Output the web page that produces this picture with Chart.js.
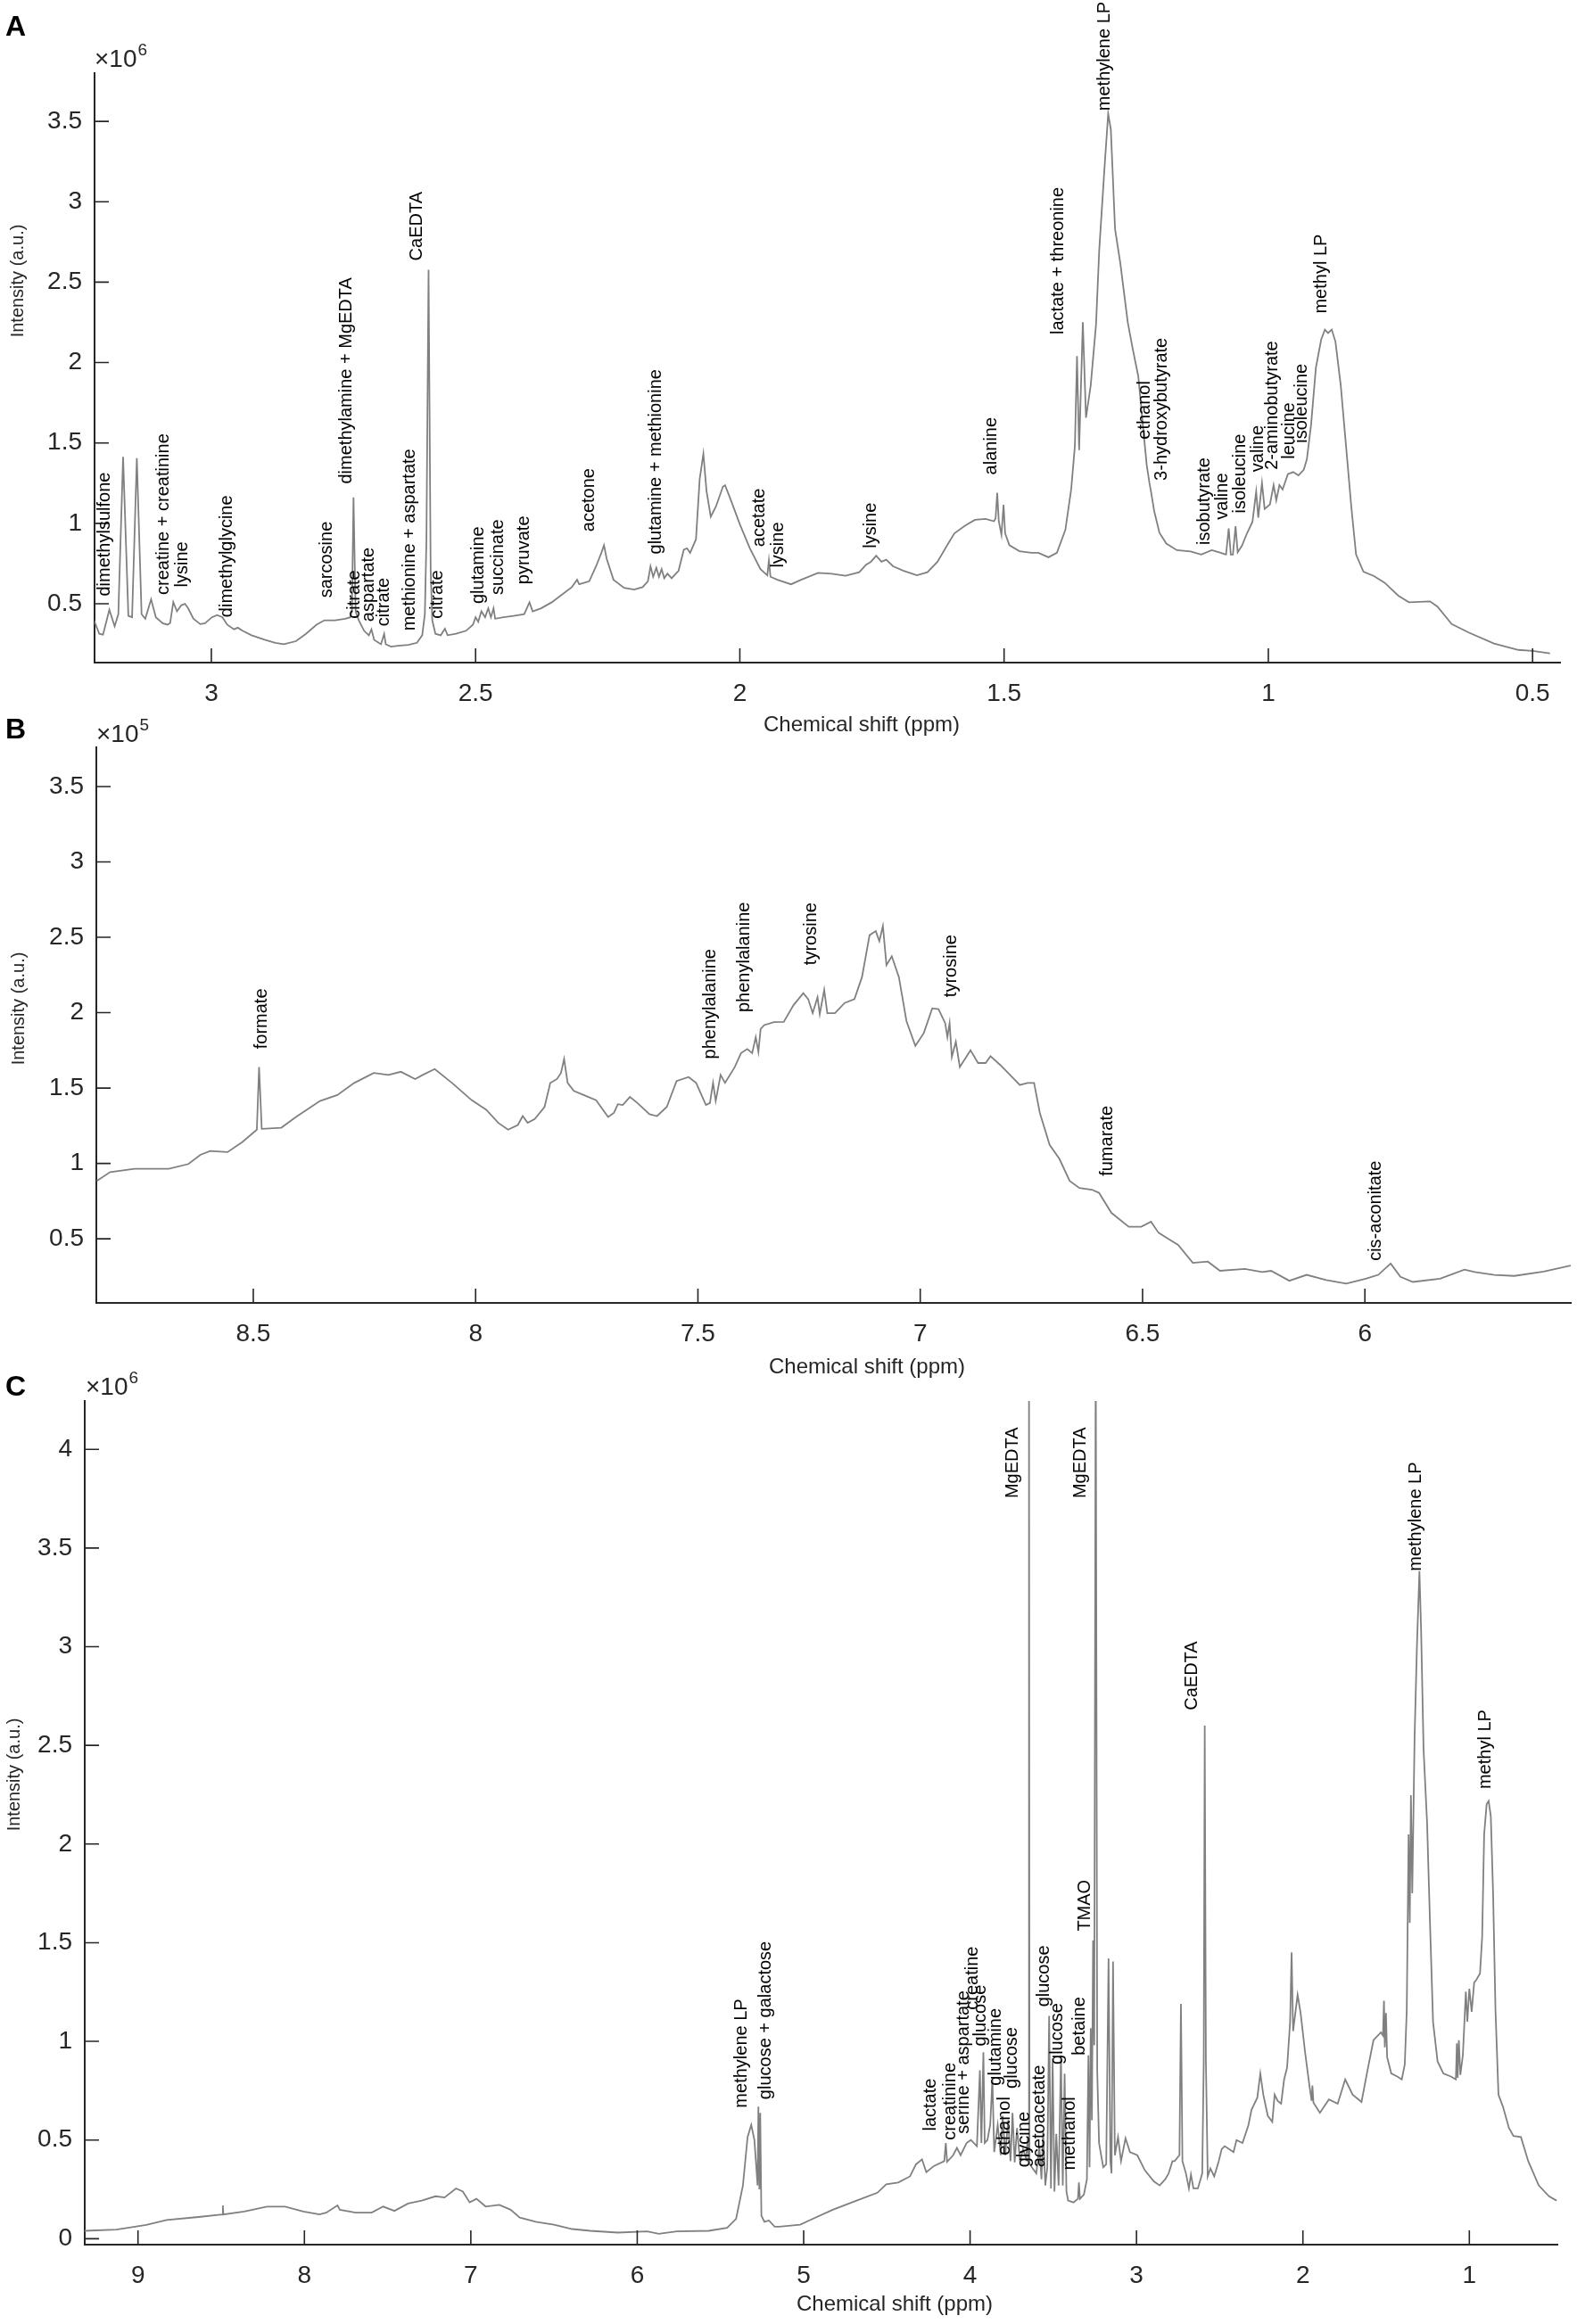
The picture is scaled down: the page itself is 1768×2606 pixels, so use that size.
<!DOCTYPE html>
<html>
<head>
<meta charset="utf-8">
<title>1H NMR spectra</title>
<script src="https://cdn.jsdelivr.net/npm/chart.js@4.4.1/dist/chart.umd.min.js"></script>
<style>
html, body { margin: 0; padding: 0; background: #fff; }
#page { position: relative; width: 1768px; height: 2606px; }
canvas { position: absolute; left: 0; }
</style>
</head>
<body>
<div id="page">
	<canvas id="chartA" width="1768" height="850" style="top:0px"></canvas>
	<canvas id="chartB" width="1768" height="770" style="top:790px"></canvas>
	<canvas id="chartC" width="1768" height="1076" style="top:1530px"></canvas>
</div>
<script>
'use strict';

const font_family = '"Liberation Sans", Arial, Helvetica, sans-serif';
const axis_color = '#262626';
const line_color = '#808080';
const tick_len = 16;

// panel A (x10^6)

const shift_a = [
	3.222, 3.212, 3.205, 3.193, 3.183, 3.176, 3.167, 3.157, 3.15, 3.141,
	3.132, 3.125, 3.114, 3.105, 3.092, 3.083, 3.078, 3.072, 3.065, 3.057,
	3.05, 3.044, 3.034, 3.021, 3.012, 2.999, 2.989, 2.979, 2.97, 2.957,
	2.95, 2.941, 2.924, 2.899, 2.879, 2.863, 2.84, 2.821, 2.801, 2.786,
	2.766, 2.747, 2.737, 2.734, 2.731, 2.727, 2.721, 2.711, 2.702, 2.697,
	2.692, 2.679, 2.673, 2.67, 2.66, 2.647, 2.627, 2.611, 2.601, 2.596,
	2.593, 2.589, 2.585, 2.582, 2.576, 2.566, 2.558, 2.553, 2.537, 2.518,
	2.505, 2.5, 2.495, 2.489, 2.482, 2.476, 2.471, 2.466, 2.463, 2.447,
	2.428, 2.408, 2.398, 2.392, 2.376, 2.356, 2.337, 2.318, 2.308, 2.304,
	2.285, 2.272, 2.262, 2.257, 2.252, 2.239, 2.219, 2.2, 2.184, 2.174,
	2.169, 2.164, 2.158, 2.153, 2.148, 2.143, 2.137, 2.129, 2.116, 2.106,
	2.1, 2.094, 2.083, 2.076, 2.069, 2.063, 2.055, 2.045, 2.032, 2.028,
	2.019, 2.0, 1.981, 1.961, 1.948, 1.945, 1.942, 1.929, 1.903, 1.884,
	1.852, 1.826, 1.8, 1.774, 1.761, 1.752, 1.742, 1.732, 1.723, 1.71,
	1.69, 1.665, 1.645, 1.626, 1.606, 1.594, 1.574, 1.555, 1.535, 1.519,
	1.516, 1.513, 1.51, 1.505, 1.501, 1.498, 1.49, 1.471, 1.448, 1.435,
	1.416, 1.4, 1.384, 1.373, 1.366, 1.362, 1.358, 1.351, 1.345, 1.336,
	1.326, 1.32, 1.31, 1.303, 1.298, 1.29, 1.28, 1.266, 1.256, 1.246,
	1.236, 1.23, 1.225, 1.222, 1.216, 1.206, 1.193, 1.173, 1.147, 1.127,
	1.107, 1.093, 1.08, 1.075, 1.071, 1.067, 1.062, 1.058, 1.05, 1.04,
	1.03, 1.023, 1.019, 1.012, 1.007, 0.997, 0.99, 0.985, 0.979, 0.973,
	0.963, 0.953, 0.943, 0.933, 0.927, 0.919, 0.91, 0.9, 0.893, 0.887,
	0.88, 0.873, 0.863, 0.853, 0.843, 0.834, 0.82, 0.8, 0.78, 0.754,
	0.734, 0.694, 0.68, 0.653, 0.62, 0.573, 0.527, 0.5, 0.467
];
const intensity_a = [
	0.397, 0.313, 0.308, 0.463, 0.36, 0.435, 1.414, 0.425, 0.416, 1.405,
	0.435, 0.407, 0.528, 0.416, 0.379, 0.37, 0.38, 0.51, 0.453, 0.49,
	0.5, 0.472, 0.407, 0.373, 0.379, 0.416, 0.43, 0.416, 0.37, 0.341,
	0.351, 0.332, 0.304, 0.276, 0.257, 0.248, 0.267, 0.313, 0.37, 0.397,
	0.397, 0.407, 0.416, 0.453, 1.162, 0.453, 0.397, 0.332, 0.304, 0.341,
	0.276, 0.248, 0.313, 0.248, 0.233, 0.239, 0.244, 0.257, 0.304, 0.435,
	0.9, 2.577, 0.715, 0.397, 0.313, 0.304, 0.345, 0.304, 0.313, 0.332,
	0.37, 0.416, 0.388, 0.453, 0.416, 0.472, 0.416, 0.472, 0.407, 0.416,
	0.425, 0.435, 0.509, 0.453, 0.472, 0.509, 0.556, 0.603, 0.649, 0.621,
	0.64, 0.733, 0.817, 0.864, 0.78, 0.649, 0.599, 0.588, 0.603, 0.64,
	0.733, 0.668, 0.724, 0.668, 0.715, 0.659, 0.687, 0.659, 0.705, 0.836,
	0.845, 0.817, 0.901, 1.274, 1.433, 1.2, 1.041, 1.106, 1.228, 1.237,
	1.162, 0.994, 0.845, 0.715, 0.677, 0.77, 0.668, 0.649, 0.621, 0.649,
	0.692, 0.687, 0.674, 0.696, 0.743, 0.761, 0.799, 0.761, 0.774, 0.733,
	0.705, 0.677, 0.696, 0.761, 0.873, 0.938, 0.985, 1.022, 1.028, 1.013,
	1.032, 1.19, 1.013, 0.929, 1.116, 0.938, 0.864, 0.827, 0.817, 0.817,
	0.789, 0.817, 0.96, 1.212, 1.482, 2.04, 1.455, 2.251, 1.657, 1.86,
	2.238, 2.697, 3.21, 3.547, 3.45, 2.83, 2.616, 2.251, 2.076, 1.913,
	1.563, 1.36, 1.252, 1.198, 1.077, 0.941, 0.874, 0.833, 0.825, 0.806,
	0.833, 0.82, 0.806, 0.968, 0.806, 0.806, 0.982, 0.82, 0.86, 0.941,
	1.009, 1.198, 1.036, 1.252, 1.09, 1.117, 1.238, 1.144, 1.238, 1.211,
	1.306, 1.319, 1.298, 1.333, 1.4, 1.617, 1.968, 2.143, 2.205, 2.184,
	2.205, 2.13, 1.86, 1.482, 1.103, 0.806, 0.699, 0.672, 0.631, 0.55,
	0.509, 0.515, 0.482, 0.374, 0.32, 0.253, 0.213, 0.207, 0.191
];
const x_ticks_a = [3, 2.5, 2, 1.5, 1, 0.5];
const y_ticks_a = [0.5, 1, 1.5, 2, 2.5, 3, 3.5];

const note_text_a = [
	'dimethylsulfone', 'creatine + creatinine', 'lysine', 'dimethylglycine', 'sarcosine',
	'dimethylamine + MgEDTA', 'citrate', 'aspartate', 'citrate', 'methionine + aspartate',
	'CaEDTA', 'citrate', 'glutamine', 'succinate', 'pyruvate', 'acetone',
	'glutamine + methionine', 'acetate', 'lysine', 'lysine', 'alanine',
	'lactate + threonine', 'methylene LP', 'ethanol', '3-hydroxybutyrate',
	'isobutyrate', 'valine', 'isoleucine', 'valine', '2-aminobutyrate', 'leucine',
	'isoleucine', 'methyl LP'
];
const note_shift_a = [
	3.201, 3.09, 3.055, 2.971, 2.781,
	2.745, 2.729, 2.702, 2.674, 2.625,
	2.611, 2.572, 2.495, 2.457, 2.408, 2.285,
	2.159, 1.963, 1.927, 1.752, 1.524,
	1.397, 1.31, 1.233, 1.201,
	1.12, 1.087, 1.053, 1.02, 0.993, 0.961,
	0.937, 0.9
];
const note_level_a = [
	0.547, 0.556, 0.603, 0.416, 0.537,
	1.246, 0.407, 0.388, 0.36, 0.332,
	2.633, 0.407, 0.5, 0.556, 0.621, 0.948,
	0.808, 0.854, 0.724, 0.845, 1.302,
	2.175, 3.566, 1.522, 1.266,
	0.866, 1.023, 1.063, 1.32, 1.333, 1.4,
	1.5, 2.305
];

// panel B (x10^5)

const shift_b = [
	8.852, 8.822, 8.767, 8.69, 8.646, 8.619, 8.597, 8.558, 8.525, 8.492,
	8.487, 8.481, 8.437, 8.404, 8.35, 8.311, 8.273, 8.229, 8.196, 8.168,
	8.136, 8.119, 8.092, 8.053, 8.009, 7.976, 7.949, 7.927, 7.905, 7.894,
	7.883, 7.867, 7.845, 7.832, 7.817, 7.808, 7.801, 7.793, 7.779, 7.757,
	7.729, 7.702, 7.689, 7.68, 7.669, 7.653, 7.636, 7.609, 7.592, 7.57,
	7.548, 7.521, 7.504, 7.482, 7.473, 7.466, 7.46, 7.449, 7.439, 7.417,
	7.403, 7.389, 7.378, 7.37, 7.364, 7.359, 7.351, 7.329, 7.307, 7.285,
	7.263, 7.252, 7.242, 7.231, 7.226, 7.216, 7.209, 7.192, 7.17, 7.148,
	7.131, 7.114, 7.1, 7.092, 7.084, 7.076, 7.064, 7.048, 7.031, 7.011,
	6.992, 6.973, 6.959, 6.944, 6.939, 6.934, 6.929, 6.92, 6.911, 6.887,
	6.87, 6.853, 6.842, 6.82, 6.798, 6.776, 6.759, 6.744, 6.731, 6.709,
	6.687, 6.664, 6.642, 6.614, 6.598, 6.57, 6.531, 6.503, 6.481, 6.464,
	6.442, 6.42, 6.387, 6.353, 6.326, 6.27, 6.231, 6.211, 6.17, 6.131,
	6.087, 6.042, 5.998, 5.97, 5.942, 5.92, 5.892, 5.831, 5.776, 5.753,
	5.709, 5.664, 5.598, 5.537
];
const intensity_b = [
	0.884, 0.943, 0.964, 0.964, 0.996, 1.057, 1.083, 1.075, 1.141, 1.224,
	1.64, 1.229, 1.237, 1.308, 1.414, 1.454, 1.534, 1.6, 1.587, 1.608,
	1.56, 1.587, 1.626, 1.534, 1.42, 1.356, 1.269, 1.224, 1.255, 1.314,
	1.269, 1.295, 1.375, 1.534, 1.56, 1.6, 1.693, 1.534, 1.481, 1.454,
	1.42, 1.308, 1.335, 1.393, 1.388, 1.441, 1.401, 1.327, 1.314, 1.375,
	1.547, 1.573, 1.534, 1.388, 1.401, 1.534, 1.414, 1.587, 1.534, 1.64,
	1.732, 1.759, 1.732, 1.838, 1.74, 1.891, 1.918, 1.937, 1.939, 2.05,
	2.13, 2.09, 1.997, 2.103, 1.99, 2.151, 1.997, 1.997, 2.064, 2.09,
	2.236, 2.514, 2.541, 2.475, 2.575, 2.316, 2.374, 2.236, 1.944, 1.78,
	1.865, 2.029, 2.024, 1.931, 1.838, 1.93, 1.706, 1.807, 1.64, 1.751,
	1.666, 1.666, 1.711, 1.653, 1.587, 1.52, 1.534, 1.534, 1.335, 1.123,
	1.03, 0.884, 0.837, 0.826, 0.805, 0.672, 0.58, 0.58, 0.614, 0.54,
	0.5, 0.46, 0.341, 0.349, 0.288, 0.301, 0.28, 0.288, 0.222, 0.261,
	0.227, 0.203, 0.235, 0.261, 0.336, 0.248, 0.214, 0.235, 0.296, 0.28,
	0.261, 0.254, 0.283, 0.323
];
const x_ticks_b = [8.5, 8, 7.5, 7, 6.5, 6];
const y_ticks_b = [0.5, 1, 1.5, 2, 2.5, 3, 3.5];

const note_text_b = ['formate', 'phenylalanine', 'phenylalanine', 'tyrosine', 'tyrosine', 'fumarate', 'cis-aconitate'];
const note_shift_b = [8.481, 7.471, 7.395, 7.246, 6.931, 6.579, 5.976];
const note_level_b = [1.759, 1.693, 2.003, 2.316, 2.103, 0.916, 0.354];

// panel C (x10^6)

const shift_c = [
	9.32, 9.129, 8.95, 8.828, 8.636, 8.492, 8.49, 8.487, 8.362, 8.225,
	8.116, 8.006, 7.91, 7.869, 7.801, 7.787, 7.692, 7.596, 7.527, 7.459,
	7.377, 7.295, 7.212, 7.158, 7.089, 7.048, 7.007, 6.966, 6.911, 6.829,
	6.761, 6.706, 6.61, 6.501, 6.391, 6.282, 6.117, 5.94, 5.871, 5.762,
	5.57, 5.46, 5.406, 5.365, 5.337, 5.315, 5.296, 5.277, 5.272, 5.266,
	5.261, 5.254, 5.236, 5.209, 5.174, 5.146, 5.021, 4.968, 4.825, 4.682,
	4.557, 4.504, 4.432, 4.361, 4.325, 4.289, 4.263, 4.218, 4.155, 4.146,
	4.138, 4.102, 4.079, 4.057, 4.021, 3.995, 3.959, 3.941, 3.932, 3.92,
	3.912, 3.896, 3.879, 3.866, 3.855, 3.834, 3.816, 3.804, 3.789, 3.771,
	3.757, 3.745, 3.732, 3.718, 3.7, 3.682, 3.664, 3.652, 3.649, 3.646,
	3.643, 3.629, 3.602, 3.584, 3.571, 3.561, 3.548, 3.536, 3.525, 3.514,
	3.504, 3.493, 3.482, 3.468, 3.454, 3.443, 3.432, 3.421, 3.411, 3.379,
	3.352, 3.346, 3.34, 3.316, 3.298, 3.289, 3.282, 3.275, 3.268, 3.261,
	3.254, 3.245, 3.236, 3.225, 3.2, 3.182, 3.168, 3.157, 3.15, 3.141,
	3.13, 3.111, 3.093, 3.066, 3.039, 2.995, 2.95, 2.896, 2.861, 2.828,
	2.807, 2.784, 2.771, 2.742, 2.733, 2.724, 2.703, 2.685, 2.673, 2.658,
	2.631, 2.605, 2.596, 2.59, 2.583, 2.572, 2.556, 2.533, 2.506, 2.488,
	2.47, 2.417, 2.399, 2.363, 2.327, 2.309, 2.274, 2.256, 2.238, 2.211,
	2.184, 2.17, 2.152, 2.131, 2.113, 2.095, 2.077, 2.068, 2.059, 2.032,
	2.014, 1.987, 1.961, 1.948, 1.943, 1.937, 1.898, 1.844, 1.791, 1.746,
	1.701, 1.648, 1.612, 1.576, 1.531, 1.519, 1.513, 1.508, 1.501, 1.494,
	1.469, 1.433, 1.406, 1.388, 1.376, 1.365, 1.358, 1.351, 1.343, 1.329,
	1.315, 1.3, 1.29, 1.275, 1.254, 1.236, 1.218, 1.191, 1.156, 1.111,
	1.081, 1.075, 1.07, 1.063, 1.054, 1.039, 1.021, 1.012, 1.0, 0.986,
	0.971, 0.957, 0.936, 0.923, 0.911, 0.896, 0.884, 0.871, 0.857, 0.843,
	0.825, 0.798, 0.762, 0.735, 0.69, 0.646, 0.583, 0.521, 0.476
];
const intensity_c = [
	0.04, 0.046, 0.07, 0.095, 0.11, 0.123, 0.169, 0.123, 0.138, 0.163,
	0.163, 0.138, 0.123, 0.132, 0.169, 0.147, 0.132, 0.132, 0.163, 0.141,
	0.178, 0.193, 0.215, 0.209, 0.255, 0.239, 0.184, 0.202, 0.163, 0.172,
	0.147, 0.107, 0.086, 0.071, 0.049, 0.04, 0.031, 0.037, 0.025, 0.037,
	0.04, 0.055, 0.101, 0.27, 0.515, 0.577, 0.5, 0.27, 0.669, 0.25,
	0.638, 0.117, 0.086, 0.092, 0.061, 0.061, 0.071, 0.092, 0.147, 0.193,
	0.233, 0.276, 0.285, 0.316, 0.377, 0.402, 0.337, 0.368, 0.393, 0.485,
	0.39, 0.423, 0.46, 0.423, 0.485, 0.5, 0.469, 0.853, 0.485, 0.945,
	0.485, 0.5, 0.577, 0.807, 0.439, 0.577, 0.423, 0.623, 0.423, 0.601,
	0.393, 0.638, 0.387, 0.561, 0.393, 0.454, 0.408, 0.515, 0.4, 4.6,
	0.38, 0.362, 0.331, 0.469, 0.301, 0.546, 0.27, 0.362, 1.129, 0.255,
	0.914, 0.239, 0.531, 0.27, 0.929, 0.27, 0.837, 0.239, 0.193, 0.184,
	0.202, 0.285, 0.202, 0.224, 0.301, 0.929, 0.362, 1.067, 0.6, 1.512,
	0.98, 4.6, 0.85, 0.485, 0.362, 0.377, 1.42, 0.393, 0.331, 1.405,
	0.423, 0.515, 0.393, 0.509, 0.439, 0.423, 0.347, 0.291, 0.27, 0.3,
	0.331, 0.393, 0.393, 0.423, 1.19, 0.393, 0.331, 0.255, 0.325, 0.255,
	0.255, 0.331, 0.9, 2.6, 0.9, 0.316, 0.356, 0.316, 0.393, 0.454,
	0.469, 0.439, 0.5, 0.485, 0.577, 0.653, 0.715, 0.837, 0.73, 0.623,
	0.592, 0.73, 0.699, 0.684, 0.807, 0.868, 1.098, 1.451, 1.052, 1.236,
	1.144, 0.945, 0.776, 0.699, 0.776, 0.69, 0.638, 0.706, 0.684, 0.807,
	0.73, 0.693, 0.853, 1.006, 1.046, 1.03, 1.206, 0.97, 1.144, 0.92,
	0.837, 0.822, 0.807, 0.883, 1.16, 2.049, 1.6, 2.248, 1.75, 2.54,
	3.0, 3.383, 3.09, 2.478, 2.11, 1.589, 1.098, 0.899, 0.837, 0.822,
	0.807, 0.99, 0.815, 1.006, 0.83, 0.929, 1.252, 1.1, 1.267, 1.15,
	1.298, 1.313, 1.344, 1.528, 2.049, 2.202, 2.218, 2.141, 1.742, 1.16,
	0.73, 0.669, 0.561, 0.521, 0.515, 0.393, 0.27, 0.215, 0.193
];
const x_ticks_c = [9, 8, 7, 6, 5, 4, 3, 2, 1];
const y_ticks_c = [0, 0.5, 1, 1.5, 2, 2.5, 3, 3.5, 4];

const note_text_c = [
	'methylene LP', 'glucose + galactose', 'lactate', 'creatinine', 'serine + aspartate',
	'creatine', 'glucose', 'glutamine', 'ethanol', 'glucose', 'glycine', 'MgEDTA',
	'acetoacetate', 'glucose', 'glucose', 'methanol', 'betaine', 'TMAO', 'MgEDTA',
	'CaEDTA', 'methylene LP', 'methyl LP'
];
const note_shift_c = [
	5.37, 5.228, 4.236, 4.12, 4.039,
	3.982, 3.936, 3.843, 3.789, 3.75, 3.673, 3.745,
	3.584, 3.557, 3.477, 3.4, 3.343, 3.311, 3.334,
	2.664, 1.322, 0.905
];
const note_level_c = [
	0.663, 0.706, 0.546, 0.5, 0.531,
	1.16, 0.975, 0.776, 0.423, 0.761, 0.362, 3.752,
	0.362, 1.175, 0.883, 0.347, 0.929, 1.558, 3.752,
	2.678, 3.383, 2.279
];

// layout

const panels = [
	{
		id: 'chartA', letter: 'A', exponent: '6',
		shift: shift_a, intensity: intensity_a, x_ticks: x_ticks_a, y_ticks: y_ticks_a,
		note_text: note_text_a, note_shift: note_shift_a, note_level: note_level_a,
		x_min: 0.448, x_max: 3.221, y_min: 0.134, y_max: 3.8,
		padding: {left: 0, right: 19, top: 82, bottom: 0}, y_width: 106, x_height: 107,
		letter_pos: [6, 40], exp_pos: [106, 75], x_title_pos: [966, 813], y_title_pos: [20, 315]
	},
	{
		id: 'chartB', letter: 'B', exponent: '5',
		shift: shift_b, intensity: intensity_b, x_ticks: x_ticks_b, y_ticks: y_ticks_b,
		note_text: note_text_b, note_shift: note_shift_b, note_level: note_level_b,
		x_min: 5.537, x_max: 8.853, y_min: 0.075, y_max: 3.76,
		padding: {left: 0, right: 7, top: 48, bottom: 0}, y_width: 108, x_height: 99,
		letter_pos: [6, 38], exp_pos: [108, 42], x_title_pos: [972, 743], y_title_pos: [21, 341]
	},
	{
		id: 'chartC', letter: 'C', exponent: '6',
		shift: shift_c, intensity: intensity_c, x_ticks: x_ticks_c, y_ticks: y_ticks_c,
		note_text: note_text_c, note_shift: note_shift_c, note_level: note_level_c,
		x_min: 0.471, x_max: 9.32, y_min: -0.03, y_max: 4.245,
		padding: {left: 0, right: 22, top: 41, bottom: 0}, y_width: 95, x_height: 89,
		letter_pos: [6, 35], exp_pos: [96, 34], x_title_pos: [1003, 1054], y_title_pos: [16, 460]
	}
];

// inward ticks, peak names, letters, titles

const panel_decor = (p) => ({
	id: 'decor',
	afterDraw(chart) {
		const ctx = chart.ctx;
		const area = chart.chartArea;
		const x = chart.scales.x;
		const y = chart.scales.y;

		ctx.save();
		ctx.strokeStyle = axis_color;
		ctx.lineWidth = 1.6;
		ctx.beginPath();
		x.ticks.forEach(t => {
			const px = x.getPixelForValue(t.value);
			ctx.moveTo(px, area.bottom);
			ctx.lineTo(px, area.bottom - tick_len);
		});
		y.ticks.forEach(t => {
			const py = y.getPixelForValue(t.value);
			ctx.moveTo(area.left, py);
			ctx.lineTo(area.left + tick_len, py);
		});
		ctx.stroke();

		ctx.fillStyle = '#000';
		ctx.font = '20px ' + font_family;
		ctx.textAlign = 'left';
		ctx.textBaseline = 'middle';
		p.note_text.forEach((text, i) => {
			ctx.save();
			ctx.translate(x.getPixelForValue(p.note_shift[i]), y.getPixelForValue(p.note_level[i]));
			ctx.rotate(-Math.PI / 2);
			ctx.fillText(text, 0, 0);
			ctx.restore();
		});

		ctx.font = 'bold 32px ' + font_family;
		ctx.textBaseline = 'alphabetic';
		ctx.fillText(p.letter, p.letter_pos[0], p.letter_pos[1]);

		ctx.fillStyle = axis_color;
		ctx.font = '28px ' + font_family;
		const base = '\u00d710';
		ctx.fillText(base, p.exp_pos[0], p.exp_pos[1]);
		const w = ctx.measureText(base).width;
		ctx.font = '19px ' + font_family;
		ctx.fillText(p.exponent, p.exp_pos[0] + w + 1, p.exp_pos[1] - 13);

		ctx.font = '24px ' + font_family;
		ctx.textAlign = 'center';
		ctx.textBaseline = 'middle';
		ctx.fillText('Chemical shift (ppm)', p.x_title_pos[0], p.x_title_pos[1]);

		ctx.font = '20px ' + font_family;
		ctx.translate(p.y_title_pos[0], p.y_title_pos[1]);
		ctx.rotate(-Math.PI / 2);
		ctx.fillText('Intensity (a.u.)', 0, 0);
		ctx.restore();
	}
});

// chart

panels.forEach(p => {
	new Chart(document.getElementById(p.id), {
		type: 'line',
		data: {
			datasets: [{
				data: p.shift.map((s, i) => ({x: s, y: p.intensity[i]})),
				borderColor: line_color,
				borderWidth: 1.8,
				pointRadius: 0,
				fill: false,
				tension: 0
			}]
		},
		options: {
			responsive: false,
			animation: false,
			devicePixelRatio: 1,
			events: [],
			layout: {padding: p.padding},
			plugins: {
				legend: {display: false},
				tooltip: {enabled: false}
			},
			scales: {
				x: {
					type: 'linear',
					reverse: true,
					min: p.x_min,
					max: p.x_max,
					afterBuildTicks: s => { s.ticks = p.x_ticks.map(v => ({value: v})); },
					afterFit: s => { s.height = p.x_height; },
					grid: {display: false, drawTicks: false},
					border: {display: true, color: axis_color, width: 2},
					ticks: {
						color: axis_color,
						font: {family: font_family, size: 28},
						padding: 18,
						maxRotation: 0,
						autoSkip: false,
						callback: v => String(v)
					}
				},
				y: {
					type: 'linear',
					min: p.y_min,
					max: p.y_max,
					afterBuildTicks: s => { s.ticks = p.y_ticks.map(v => ({value: v})); },
					afterFit: s => { s.width = p.y_width; },
					grid: {display: false, drawTicks: false},
					border: {display: true, color: axis_color, width: 2},
					ticks: {
						color: axis_color,
						font: {family: font_family, size: 28},
						padding: 14,
						autoSkip: false,
						callback: v => String(v)
					}
				}
			}
		},
		plugins: [panel_decor(p)]
	});
});
</script>
</body>
</html>
